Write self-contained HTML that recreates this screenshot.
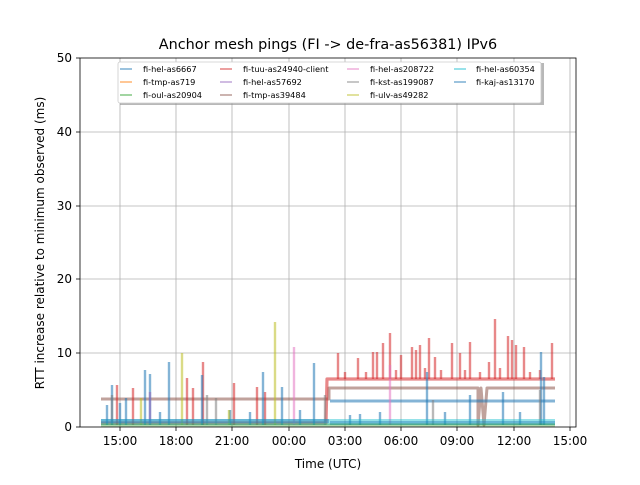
<!DOCTYPE html>
<html><head><meta charset="utf-8"><style>
body{margin:0;background:#fff;}
svg text{font-family:"DejaVu Sans","Liberation Sans",sans-serif;}
</style></head><body>
<svg width="640" height="480" xmlns="http://www.w3.org/2000/svg">
<rect width="640" height="480" fill="#fff"/>
<text x="328" y="49" font-size="14.4" text-anchor="middle">Anchor mesh pings (FI -&gt; de-fra-as56381) IPv6</text>
<g stroke="#b0b0b0" stroke-width="0.8">
<line x1="120" y1="58" x2="120" y2="427"/><line x1="176" y1="58" x2="176" y2="427"/><line x1="232" y1="58" x2="232" y2="427"/><line x1="289" y1="58" x2="289" y2="427"/><line x1="345" y1="58" x2="345" y2="427"/><line x1="401" y1="58" x2="401" y2="427"/><line x1="457" y1="58" x2="457" y2="427"/><line x1="514" y1="58" x2="514" y2="427"/><line x1="570" y1="58" x2="570" y2="427"/>
<line x1="80" y1="353" x2="576" y2="353"/><line x1="80" y1="279" x2="576" y2="279"/><line x1="80" y1="206" x2="576" y2="206"/><line x1="80" y1="132" x2="576" y2="132"/>
</g>
<g fill="none" stroke-linejoin="round" stroke-width="2.4">
<path d="M101 399 L329 399 L329 388 L478 388 L478 425 L481 388 L484 425 L487 388 L555 388" stroke="#8c564b" stroke-opacity="0.55" stroke-width="3"/>
<path d="M330 401 L555 401" stroke="#1f77b4" stroke-opacity="0.55" stroke-width="3"/>
<path d="M101 423 L326 423 L327 379 L555 379" stroke="#d62728" stroke-opacity="0.55" stroke-width="3.2"/>
<path stroke="#d62728" stroke-opacity="0.55" d="M117 425L117 385M133 425L133 388M187 425L187 378M193 425L193 388M203 425L203 362M234 425L234 383M257 425L257 387M265 425L265 392M338 379L338 353M358 379L358 358M373 379L373 352M377 379L377 352M383 379L383 343M390 379L390 333M401 379L401 355M412 379L412 347M416 379L416 350M420 379L420 345M429 379L429 338M435 379L435 357M452 379L452 343M460 379L460 353M470 379L470 342M489 379L489 362M495 379L495 319M508 379L508 336M512 379L512 340M516 379L516 345M524 379L524 347M552 379L552 343M345 379L345 372M366 379L366 372M396 379L396 370M425 379L425 368M441 379L441 370M465 379L465 370M480 379L480 372M500 379L500 368M530 379L530 372M540 379L540 370"/>
<path stroke="#1f77b4" stroke-opacity="0.55" d="M107 425L107 405M112 425L112 385M126 425L126 398M145 425L145 370M150 425L150 374M169 425L169 362M202 425L202 375M263 425L263 372M282 425L282 387M314 425L314 363M427 425L427 372M470 425L470 395M503 425L503 392M541 425L541 352M544 425L544 377M120 425L120 403M230 425L230 410M350 425L350 415M380 425L380 412M160 425L160 412M250 425L250 412M300 425L300 410M360 425L360 414M445 425L445 412M520 425L520 412"/>
<path stroke="#bcbd22" stroke-opacity="0.55" d="M141 425L141 398M182 425L182 353M275 425L275 322M229 425L229 410"/>
<path stroke="#e377c2" stroke-opacity="0.55" d="M294 425L294 347M390 425L390 365"/>
<path stroke="#9467bd" stroke-opacity="0.55" d="M150 425L150 392"/>
<path stroke="#7f7f7f" stroke-opacity="0.55" d="M112 425L112 395M207 425L207 395M216 425L216 398M325 425L325 395M433 425L433 400M540 425L540 390"/>
<path d="M101 422 L555 422" stroke="#17becf" stroke-opacity="0.45" stroke-width="6"/>
<path d="M101 421 L329 421 M330 423 L555 423" stroke="#1f77b4" stroke-opacity="0.4" stroke-width="4"/>
<path d="M101 425 L555 425" stroke="#2ca02c" stroke-opacity="0.4" stroke-width="3"/>
</g>
<rect x="80" y="58" width="496" height="369" fill="none" stroke="#000" stroke-width="0.8"/>
<g stroke="#000" stroke-width="0.8">
<line x1="120" y1="427" x2="120" y2="431"/><line x1="176" y1="427" x2="176" y2="431"/><line x1="232" y1="427" x2="232" y2="431"/><line x1="289" y1="427" x2="289" y2="431"/><line x1="345" y1="427" x2="345" y2="431"/><line x1="401" y1="427" x2="401" y2="431"/><line x1="457" y1="427" x2="457" y2="431"/><line x1="514" y1="427" x2="514" y2="431"/><line x1="570" y1="427" x2="570" y2="431"/>
<line x1="76" y1="427" x2="80" y2="427"/><line x1="76" y1="353" x2="80" y2="353"/><line x1="76" y1="279" x2="80" y2="279"/><line x1="76" y1="206" x2="80" y2="206"/><line x1="76" y1="132" x2="80" y2="132"/><line x1="76" y1="58" x2="80" y2="58"/>
</g>
<g font-size="12" text-anchor="middle">
<text x="120" y="445">15:00</text><text x="176" y="445">18:00</text><text x="232" y="445">21:00</text><text x="289" y="445">00:00</text><text x="345" y="445">03:00</text><text x="401" y="445">06:00</text><text x="457" y="445">09:00</text><text x="514" y="445">12:00</text><text x="570" y="445">15:00</text>
</g>
<g font-size="12" text-anchor="end">
<text x="72" y="431">0</text><text x="72" y="357">10</text><text x="72" y="283">20</text><text x="72" y="210">30</text><text x="72" y="136">40</text><text x="72" y="62">50</text>
</g>
<text x="328" y="468" font-size="12" text-anchor="middle">Time (UTC)</text>
<text transform="translate(44,243) rotate(-90)" font-size="12" text-anchor="middle">RTT increase relative to minimum observed (ms)</text>
<rect x="120" y="63" width="424" height="42" fill="#888" opacity="0.6"/>
<rect x="118" y="62" width="423" height="41" fill="#fff" stroke="#ccc" stroke-width="0.8" rx="2"/>
<g stroke-width="1.6" stroke-opacity="0.55">
<line x1="120" y1="69" x2="132" y2="69" stroke="#1f77b4"/>
<line x1="120" y1="82" x2="132" y2="82" stroke="#ff7f0e"/>
<line x1="120" y1="95" x2="132" y2="95" stroke="#2ca02c"/>
<line x1="220" y1="69" x2="232" y2="69" stroke="#d62728"/>
<line x1="220" y1="82" x2="232" y2="82" stroke="#9467bd"/>
<line x1="220" y1="95" x2="232" y2="95" stroke="#8c564b"/>
<line x1="347" y1="69" x2="359" y2="69" stroke="#e377c2"/>
<line x1="347" y1="82" x2="359" y2="82" stroke="#7f7f7f"/>
<line x1="347" y1="95" x2="359" y2="95" stroke="#bcbd22"/>
<line x1="454" y1="69" x2="466" y2="69" stroke="#17becf"/>
<line x1="454" y1="82" x2="466" y2="82" stroke="#1f77b4"/>
</g>
<g font-size="8.2">
<text x="143" y="72">fi-hel-as6667</text><text x="143" y="85">fi-tmp-as719</text><text x="143" y="98">fi-oul-as20904</text>
<text x="243" y="72">fi-tuu-as24940-client</text><text x="243" y="85">fi-hel-as57692</text><text x="243" y="98">fi-tmp-as39484</text>
<text x="370" y="72">fi-hel-as208722</text><text x="370" y="85">fi-kst-as199087</text><text x="370" y="98">fi-ulv-as49282</text>
<text x="476" y="72">fi-hel-as60354</text><text x="476" y="85">fi-kaj-as13170</text>
</g>
</svg>
</body></html>
